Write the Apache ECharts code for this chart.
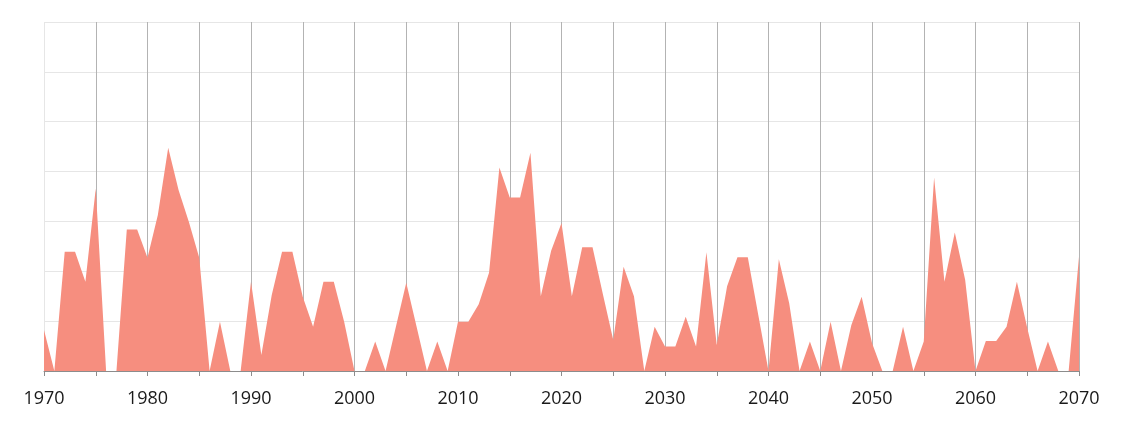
<!DOCTYPE html>
<html>
<head>
<meta charset="utf-8">
<script src="https://cdn.jsdelivr.net/npm/echarts@6/dist/echarts.min.js"></script>
<style>
html,body{margin:0;padding:0;background:#fff;}
#chart{width:1124px;height:423px;}
</style>
</head>
<body>
<div id="chart"></div>
<script>
const years = [];
for (let y = 1970; y <= 2070; y++) years.push(y);

const values = [
  8.2, 0, 23.9, 23.9, 17.9, 36.6, 0, 0, 28.4, 28.4,
  22.7, 31.3, 44.8, 36.3, 29.9, 22.7, 0, 9.9, 0, 0,
  17.9, 3.2, 15.2, 23.9, 23.9, 14.9, 8.9, 17.9, 17.9, 9.9,
  0, 0, 5.9, 0, 8.9, 17.7, 8.9, 0, 5.9, 0,
  9.9, 9.9, 13.4, 19.7, 40.8, 34.8, 34.8, 43.8, 15.0, 24.1,
  29.7, 15.0, 24.8, 24.8, 15.4, 6.2, 20.9, 15.0, 0, 8.9,
  4.9, 4.9, 10.9, 4.9, 23.8, 5.2, 17.0, 22.8, 22.8, 11.4,
  0, 22.4, 13.6, 0, 5.9, 0, 9.9, 0, 9.2, 14.9,
  5.6, 0, 0, 8.9, 0, 5.9, 38.8, 17.9, 27.8, 18.3,
  0, 6.0, 6.0, 8.9, 17.9, 8.6, 0, 5.9, 0, 0,
  22.9
];

const xTickLabels = ['1970','1980','1990','2000','2010','2020','2030','2040','2050','2060','2070'];

const seriesData = years.map((y, i) => [y, values[i]]);

const splitColors = ['#e6e6e6'];
for (let i = 0; i < 20; i++) splitColors.push('#b3b3b3');

const chart = echarts.init(document.getElementById('chart'), null, {renderer: 'canvas'});
chart.setOption({
  animation: false,
  backgroundColor: '#ffffff',
  grid: {left: 44, right: 45, top: 22, bottom: 52, containLabel: false},
  xAxis: {
    type: 'value',
    min: 1970, max: 2070, interval: 5,
    axisLine: {show: true, lineStyle: {color: '#8c8c8c', width: 1}},
    axisTick: {show: true, length: 5, lineStyle: {color: '#8c8c8c'}},
    axisLabel: {
      show: true, margin: 19,
      fontFamily: 'Open Sans', fontSize: 18, color: '#1a1a1a',
      formatter: function (v) {
        const s = String(v);
        return xTickLabels.indexOf(s) >= 0 ? s : '';
      }
    },
    splitLine: {show: true, lineStyle: {color: splitColors, width: 1}}
  },
  yAxis: {
    type: 'value',
    min: 0, max: 70, interval: 10,
    axisLine: {show: false},
    axisTick: {show: false},
    axisLabel: {show: false},
    splitLine: {show: true, lineStyle: {color: '#e6e6e6', width: 1}}
  },
  series: [{
    type: 'line',
    data: seriesData,
    symbol: 'none',
    lineStyle: {width: 0, color: '#f68e7f'},
    itemStyle: {color: '#f68e7f'},
    areaStyle: {color: '#f68e7f', opacity: 1}
  }]
});
</script>
</body>
</html>
